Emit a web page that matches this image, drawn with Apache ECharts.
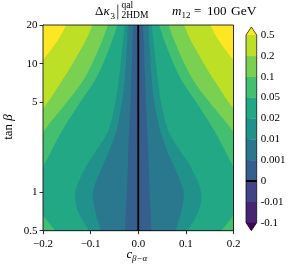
<!DOCTYPE html>
<html><head><meta charset="utf-8">
<script src="https://cdn.jsdelivr.net/npm/echarts@6/dist/echarts.min.js"></script>
<style>html,body{margin:0;padding:0;background:#fff}#c{width:295px;height:272px}</style>
</head><body><div id="c"></div>
<script>
// tan(beta) rows at which contour crossings were read
const tanBeta = [20, 15, 10, 7, 5, 3, 2, 1.5, 1, 0.7, 0.5];
// |c_{beta-alpha}| where Delta kappa_3 reaches each level (values > 0.2 lie outside the plot)
const c_at_0p001 = [0.010, 0.012, 0.013, 0.015, 0.016, 0.019, 0.021, 0.022, 0.024, 0.026, 0.027];
const c_at_0p01  = [0.022, 0.023, 0.026, 0.029, 0.034, 0.046, 0.063, 0.078, 0.095, 0.090, 0.078];
const c_at_0p02  = [0.028, 0.032, 0.037, 0.042, 0.048, 0.063, 0.092, 0.113, 0.132, 0.126, 0.103];
const c_at_0p05  = [0.044, 0.055, 0.074, 0.095, 0.122, 0.160, 0.185, 0.202, 0.214, 0.204, 0.174];
const c_at_0p1   = [0.064, 0.076, 0.097, 0.120, 0.150, 0.198, 0.227, 0.239, 0.248, 0.239, 0.227];
const c_at_0p2   = [0.096, 0.111, 0.138, 0.164, 0.190, 0.235, 0.260, 0.273, 0.284, 0.273, 0.263];
const c_at_0p5   = [0.151, 0.170, 0.206, 0.242, 0.273, 0.320, 0.350, 0.360, 0.370, 0.360, 0.350];

// colour levels
const levels = [-0.1, -0.01, 0, 0.001, 0.01, 0.02, 0.05, 0.1, 0.2, 0.5];
const levelLabels = ['-0.1', '-0.01', '0', '0.001', '0.01', '0.02', '0.05', '0.1', '0.2', '0.5'];
const bandColors = ['#440154', '#482475', '#414487', '#355f8d', '#2a788e', '#21918c',
                    '#22a884', '#44bf70', '#7ad151', '#bddf26', '#fde725'];
const contourSets = [c_at_0p001, c_at_0p01, c_at_0p02, c_at_0p05, c_at_0p1, c_at_0p2, c_at_0p5];
const contourLevelIdx = [3, 4, 5, 6, 7, 8, 9]; // index into levels

// axes
const xTicks = [-0.2, -0.1, 0.0, 0.1, 0.2];
const yMajorTicks = [0.5, 1, 5, 10, 20];
const yMinorTicks = [0.6, 0.7, 0.8, 0.9, 2, 3, 4, 6, 7, 8, 9];

const FONT = 'Liberation Serif';
const L10 = Math.log10;

function boundaryPath(api, cs, sign) {
  const pts = tanBeta.map((t, i) => api.coord([sign * cs[i], L10(t)]));
  let d = 'M' + pts[0][0] + ' ' + pts[0][1];
  const n = pts.length;
  for (let i = 0; i < n - 1; i++) {
    const p0 = pts[Math.max(i - 1, 0)], p1 = pts[i], p2 = pts[i + 1], p3 = pts[Math.min(i + 2, n - 1)];
    const c1 = [p1[0] + (p2[0] - p0[0]) / 6, p1[1] + (p2[1] - p0[1]) / 6];
    const c2 = [p2[0] - (p3[0] - p1[0]) / 6, p2[1] - (p3[1] - p1[1]) / 6];
    d += ' C' + c1[0] + ' ' + c1[1] + ' ' + c2[0] + ' ' + c2[1] + ' ' + p2[0] + ' ' + p2[1];
  }
  const farB = api.coord([sign * 0.8, L10(0.5)]);
  d += ' L' + farB[0] + ' ' + pts[n - 1][1] + ' L' + farB[0] + ' ' + pts[0][1] + ' Z';
  return d;
}

const chart = echarts.init(document.getElementById('c'), null, {renderer: 'canvas'});
const yMin = L10(0.5), yMax = L10(20);

const option = {
  animation: false,
  backgroundColor: '#fff',
  grid: [
    {left: 43, top: 25, right: 61.5, bottom: 41.3},
    {left: 246, top: 35, right: 38.3, bottom: 49.3}
  ],
  xAxis: [
    {gridIndex: 0, type: 'value', min: -0.2, max: 0.2, interval: 0.1,
     axisLine: {show: true, onZero: false, lineStyle: {color: '#000', width: 0.8}},
     axisTick: {show: true, inside: false, length: 3.5, lineStyle: {color: '#000', width: 0.8}},
     axisLabel: {margin: 8, fontFamily: FONT, fontSize: 11, color: '#000',
       formatter: v => { const t = xTicks.find(x => Math.abs(x - v) < 1e-9); return (t === undefined ? v : t).toFixed(1).replace('-', '\u2212'); }},
     splitLine: {show: false}},
    {gridIndex: 1, type: 'value', min: 0, max: 1, show: false}
  ],
  yAxis: [
    {gridIndex: 0, type: 'value', min: yMin, max: yMax, position: 'left',
     axisLine: {show: true, onZero: false, lineStyle: {color: '#000', width: 0.8}},
     axisTick: {show: true, length: 3.5, customValues: yMajorTicks.map(L10), lineStyle: {color: '#000', width: 0.8}},
     axisLabel: {show: true, margin: 5.5, fontFamily: FONT, fontSize: 11, color: '#000',
       customValues: yMajorTicks.map(L10),
       formatter: v => { let best = 0; yMajorTicks.forEach((t, i) => { if (Math.abs(L10(t) - v) < Math.abs(L10(yMajorTicks[best]) - v)) best = i; }); return String(yMajorTicks[best]); }},
     splitLine: {show: false}},
    {gridIndex: 0, type: 'value', min: yMin, max: yMax, position: 'left', offset: 0,
     axisLine: {show: false},
     axisTick: {show: true, length: 2, customValues: yMinorTicks.map(L10), lineStyle: {color: '#000', width: 0.6}},
     axisLabel: {show: false}, splitLine: {show: false}},
    {gridIndex: 1, type: 'value', min: 0, max: 9, interval: 1, position: 'right',
     axisLine: {show: false},
     axisTick: {show: true, length: 3.5, lineStyle: {color: '#000', width: 0.8}},
     axisLabel: {margin: 4, fontFamily: FONT, fontSize: 11, color: '#000',
       formatter: v => levelLabels[Math.round(v)]},
     splitLine: {show: false}}
  ],
  series: [
    { // filled contours
      type: 'custom', xAxisIndex: 0, yAxisIndex: 0, clip: true, silent: true,
      data: contourSets.map((_, i) => [i]),
      renderItem: (params, api) => {
        const k = params.dataIndex;
        const cs = contourSets[k];
        const children = [];
        if (k === 0) {
          const tl = api.coord([-0.2, yMax]), br = api.coord([0.2, yMin]);
          children.push({type: 'rect', shape: {x: tl[0], y: tl[1], width: br[0] - tl[0], height: br[1] - tl[1]},
            style: {fill: bandColors[contourLevelIdx[0]]}});
        }
        const col = bandColors[contourLevelIdx[k] + 1];
        [1, -1].forEach(s => children.push({type: 'path', shape: {pathData: boundaryPath(api, cs, s)}, style: {fill: col}}));
        return {type: 'group', children};
      }
    },
    { // zero contour + frame
      type: 'custom', xAxisIndex: 0, yAxisIndex: 0, clip: false, silent: true, z: 5,
      data: [[0]],
      renderItem: (params, api) => {
        const top = api.coord([0, yMax]), bot = api.coord([0, yMin]);
        const tl = api.coord([-0.2, yMax]), br = api.coord([0.2, yMin]);
        return {type: 'group', children: [
          {type: 'line', shape: {x1: top[0], y1: top[1], x2: bot[0], y2: bot[1]}, style: {stroke: '#000', lineWidth: 1.8}},
          {type: 'rect', shape: {x: tl[0], y: tl[1], width: br[0] - tl[0], height: br[1] - tl[1]},
            style: {fill: null, stroke: '#000', lineWidth: 0.8}}
        ]};
      }
    },
    { // colour bar
      type: 'custom', xAxisIndex: 1, yAxisIndex: 2, clip: false, silent: true,
      data: [[0]],
      renderItem: (params, api) => {
        const ch = [];
        for (let i = 0; i < levels.length - 1; i++) {
          const a = api.coord([0, i + 1]), b = api.coord([1, i]);
          ch.push({type: 'rect', shape: {x: a[0], y: a[1], width: b[0] - a[0], height: b[1] - a[1] + 0.3},
            style: {fill: bandColors[i + 1]}});
        }
        const ext = 0.385;
        const b0 = api.coord([0, 0]), b1 = api.coord([1, 0]), bt = api.coord([0.5, -ext]);
        const t0 = api.coord([0, levels.length - 1]), t1 = api.coord([1, levels.length - 1]), tt = api.coord([0.5, levels.length - 1 + ext]);
        ch.push({type: 'polygon', shape: {points: [b0, b1, bt]}, style: {fill: bandColors[0]}});
        ch.push({type: 'polygon', shape: {points: [t0, t1, tt]}, style: {fill: bandColors[bandColors.length - 1]}});
        const zi = levels.indexOf(0);
        const z0 = api.coord([0, zi]), z1 = api.coord([1, zi]);
        ch.push({type: 'line', shape: {x1: z0[0], y1: z0[1], x2: z1[0], y2: z1[1]}, style: {stroke: '#000', lineWidth: 2}});
        ch.push({type: 'polygon', shape: {points: [bt, b0, t0, tt, t1, b1]}, style: {fill: null, stroke: '#000', lineWidth: 0.7}});
        return {type: 'group', children: ch};
      }
    }
  ],
  graphic: [
    {type: 'text', x: 95, y: 18.5, style: {text: '\u0394', fontFamily: FONT, fontSize: 13, fill: '#000', verticalAlign: 'bottom'}},
    {type: 'text', x: 103.5, y: 18.5, style: {text: '\u03BA', fontFamily: FONT, fontStyle: 'italic', fontSize: 13, fill: '#000', verticalAlign: 'bottom'}},
    {type: 'text', x: 110.5, y: 21, style: {text: '3', fontFamily: FONT, fontSize: 9, fill: '#000', verticalAlign: 'bottom'}},
    {type: 'rect', shape: {x: 117.5, y: 4.5, width: 0.7, height: 15}, style: {fill: '#000'}},
    {type: 'text', x: 121.5, y: 10.5, style: {text: 'qal', fontFamily: FONT, fontSize: 9.5, fill: '#000', verticalAlign: 'bottom'}},
    {type: 'text', x: 121.5, y: 20, style: {text: '2HDM', fontFamily: FONT, fontSize: 9.5, fill: '#000', verticalAlign: 'bottom'}},
    {type: 'text', x: 172, y: 18, style: {text: 'm', fontFamily: FONT, fontStyle: 'italic', fontSize: 13, fill: '#000', verticalAlign: 'bottom'}},
    {type: 'text', x: 181.5, y: 20.5, style: {text: '12', fontFamily: FONT, fontSize: 9, fill: '#000', verticalAlign: 'bottom'}},
    {type: 'text', x: 194, y: 18, style: {text: '=', fontFamily: FONT, fontSize: 13, fill: '#000', verticalAlign: 'bottom'}},
    {type: 'text', x: 207, y: 18, style: {text: '100', fontFamily: FONT, fontSize: 13, fill: '#000', verticalAlign: 'bottom'}},
    {type: 'text', x: 231, y: 18, style: {text: 'GeV', fontFamily: FONT, fontSize: 13.5, fill: '#000', verticalAlign: 'bottom'}},
    {type: 'text', x: 126.5, y: 261, style: {text: 'c', fontFamily: FONT, fontStyle: 'italic', fontSize: 13, fill: '#000', verticalAlign: 'bottom'}},
    {type: 'text', x: 132, y: 263.5, style: {text: '\u03B2\u2212\u03B1', fontFamily: FONT, fontStyle: 'italic', fontSize: 9, fill: '#000', verticalAlign: 'bottom'}},
    {type: 'text', x: 15.5, y: 127, rotation: Math.PI / 2,
     style: {text: '{a|tan }{b|\u03B2}', align: 'center', verticalAlign: 'bottom',
       rich: {a: {fontFamily: FONT, fontSize: 13, fill: '#000'}, b: {fontFamily: FONT, fontStyle: 'italic', fontSize: 13, fill: '#000'}}}}
  ]
};
chart.setOption(option);
</script>
</body></html>
